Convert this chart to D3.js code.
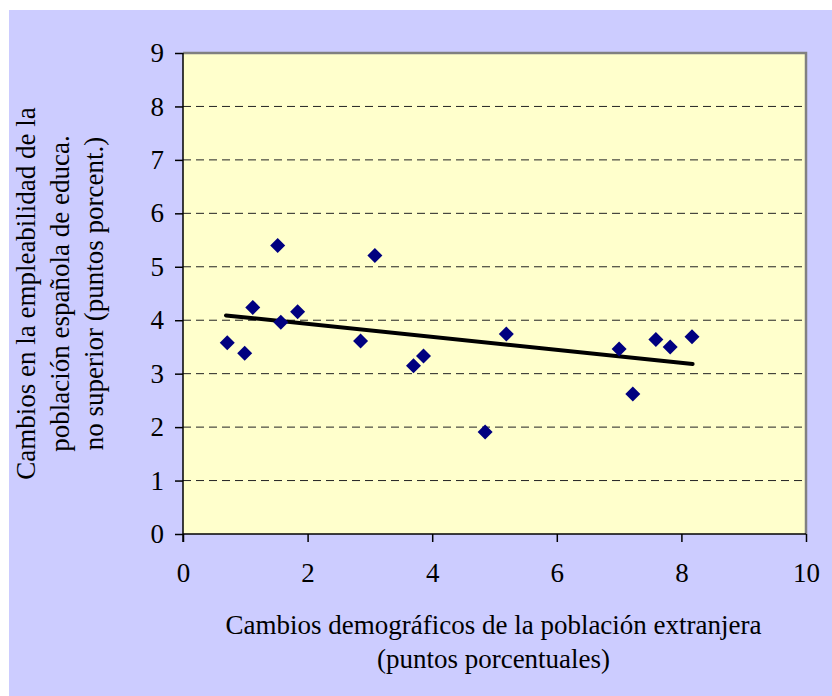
<!DOCTYPE html>
<html>
<head>
<meta charset="utf-8">
<script src="https://cdn.jsdelivr.net/npm/d3@7"></script>
<style>
  body { margin: 0; background: #fff; }
  svg text { font-family: "Liberation Serif", "Times New Roman", serif; fill: #000; }
</style>
</head>
<body>
<div id="chart"></div>
<script>
// cambios demograficos (x) vs cambios en empleabilidad (y)
var demoChange = [0.71, 0.99, 1.12, 1.52, 1.57, 1.84, 2.85, 3.08, 3.70, 3.86, 4.85, 5.19, 7.00, 7.22, 7.59, 7.82, 8.17];
var emplChange = [3.58, 3.38, 4.24, 5.40, 3.96, 4.16, 3.61, 5.21, 3.15, 3.33, 1.91, 3.74, 3.46, 2.62, 3.64, 3.50, 3.69];
var trendX = [0.69, 8.18];
var trendY = [4.09, 3.18];
var xTicks = [0, 2, 4, 6, 8, 10];
var yTicks = [0, 1, 2, 3, 4, 5, 6, 7, 8, 9];
var xTitle = ['Cambios demográficos de la población extranjera', '(puntos porcentuales)'];
var yTitle = ['Cambios en la empleabilidad de la', 'población española de educa.', 'no superior (puntos porcent.)'];

var W = 832, H = 696,
    margin = { top: 53, right: 26, bottom: 162, left: 183 },
    width = W - margin.left - margin.right,
    height = H - margin.top - margin.bottom;

var svg = d3.select('#chart').append('svg')
    .attr('width', W)
    .attr('height', H);

svg.append('rect')
    .attr('x', 9).attr('y', 10)
    .attr('width', W - 9).attr('height', H - 10)
    .attr('fill', '#ccccff');

var xScale = d3.scaleLinear().domain([0, 10]).range([0, width]);
var yScale = d3.scaleLinear().domain([0, 9]).range([height, 0]);

var chart = svg.append('g')
    .attr('transform', 'translate(' + margin.left + ',' + margin.top + ')');

chart.append('rect')
    .attr('width', width).attr('height', height)
    .attr('fill', '#ffffcc');

// grid
chart.selectAll('line.grid').data(yTicks.filter(function(d) { return d > 0 && d < 9; }))
    .enter().append('line')
    .attr('class', 'grid')
    .attr('x1', 0).attr('x2', width)
    .attr('y1', function(d) { return yScale(d); })
    .attr('y2', function(d) { return yScale(d); })
    .attr('stroke', '#222')
    .attr('stroke-width', 1)
    .attr('stroke-dasharray', '8,5');

// top / right border
chart.append('path')
    .attr('d', 'M0,' + yScale(9) + 'H' + xScale(10) + 'V' + yScale(0))
    .attr('fill', 'none')
    .attr('stroke', '#808080')
    .attr('stroke-width', 2.5);

// axes
var yAxis = d3.axisLeft(yScale).tickValues(yTicks).tickSize(8).tickPadding(11).tickFormat(d3.format('d'));
var xAxis = d3.axisBottom(xScale).tickValues(xTicks).tickSize(8).tickPadding(21).tickFormat(d3.format('d'));

var yG = chart.append('g').call(yAxis);
var xG = chart.append('g').attr('transform', 'translate(0,' + height + ')').call(xAxis);

[yG, xG].forEach(function(g) {
    g.select('.domain').attr('stroke', '#000').attr('stroke-width', 1.5);
    g.selectAll('.tick line').attr('stroke', '#000').attr('stroke-width', 1.5);
    g.selectAll('.tick text')
        .style('font-family', '"Liberation Serif", "Times New Roman", serif')
        .style('font-size', '27px')
        .attr('fill', '#000');
});
yG.select('.domain').attr('d', 'M0,' + (height + 8) + 'V0');
xG.select('.domain').attr('d', 'M0,0H' + width);

// trend line
chart.append('line')
    .attr('x1', xScale(trendX[0])).attr('y1', yScale(trendY[0]))
    .attr('x2', xScale(trendX[1])).attr('y2', yScale(trendY[1]))
    .attr('stroke', '#000')
    .attr('stroke-width', 4)
    .attr('stroke-linecap', 'round');

// points
var r = 7.5;
chart.selectAll('path.pt').data(demoChange)
    .enter().append('path')
    .attr('class', 'pt')
    .attr('d', function(d, i) {
        var cx = xScale(d), cy = yScale(emplChange[i]);
        return 'M' + cx + ',' + (cy - r) + 'L' + (cx + r) + ',' + cy + 'L' + cx + ',' + (cy + r) + 'L' + (cx - r) + ',' + cy + 'Z';
    })
    .attr('fill', '#000080');

// axis titles
svg.append('g').selectAll('text').data(xTitle)
    .enter().append('text')
    .attr('x', margin.left + width / 2 - 1)
    .attr('y', function(d, i) { return 634 + i * 34; })
    .attr('text-anchor', 'middle')
    .style('font-size', '27px')
    .text(function(d) { return d; });

svg.append('g').selectAll('text').data(yTitle)
    .enter().append('text')
    .attr('transform', function(d, i) {
        return 'translate(' + (35 + i * 34) + ',' + (margin.top + height / 2) + ') rotate(-90)';
    })
    .attr('text-anchor', 'middle')
    .style('font-size', '27px')
    .text(function(d) { return d; });
</script>
</body>
</html>
